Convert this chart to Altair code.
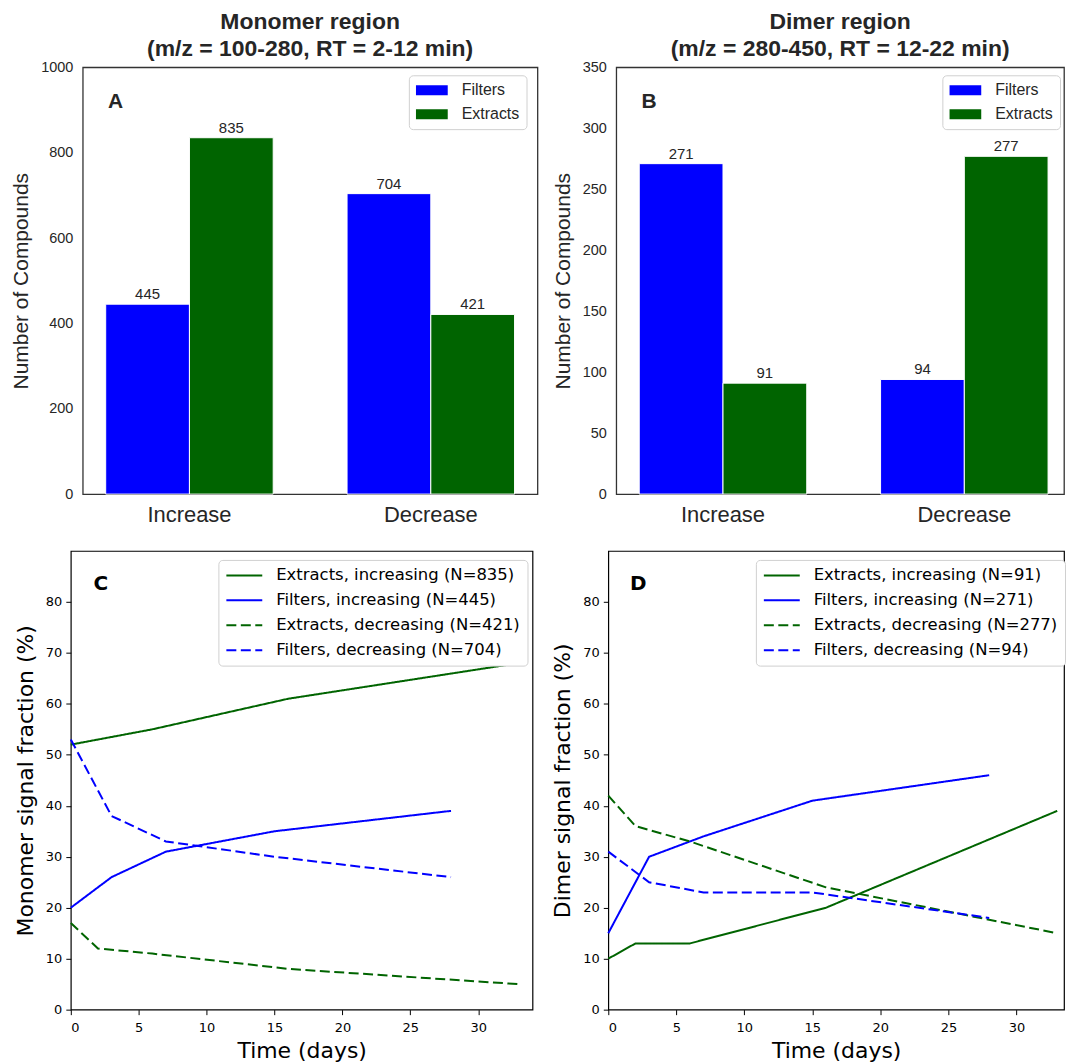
import altair as alt
import pandas as pd

# ---------------- data ----------------
categories = ["Increase", "Decrease"]
groups = ["Filters", "Extracts"]
mono_filters = [445, 704]
mono_extracts = [835, 421]
dimer_filters = [271, 94]
dimer_extracts = [91, 277]

filter_days = [0, 3, 7, 15, 28]
extract_days = [0, 2, 6, 16, 33]

mono_ext_inc = [52, 53, 55, 61, 68]
mono_fil_inc = [20, 26, 31, 35, 39]
mono_ext_dec = [17, 12, 11, 8, 5]
mono_fil_dec = [53, 38, 33, 30, 26]

dimer_ext_inc = [10, 13, 13, 20, 39]
dimer_fil_inc = [15, 30, 34, 41, 46]
dimer_ext_dec = [42, 36, 33, 24, 15]
dimer_fil_dec = [31, 25, 23, 23, 18]

mono_labels = ["Extracts, increasing (N=835)", "Filters, increasing (N=445)",
               "Extracts, decreasing (N=421)", "Filters, decreasing (N=704)"]
dimer_labels = ["Extracts, increasing (N=91)", "Filters, increasing (N=271)",
                "Extracts, decreasing (N=277)", "Filters, decreasing (N=94)"]

SANS = "Liberation Sans"
DEJA = "DejaVu Sans"
DARK = "#262626"
BLUE = "#0000ff"
GREEN = "#006400"


def bar_panel(filters, extracts, ymax, ystep, title_lines, letter, width, pad_outer, align):
    df = pd.DataFrame({
        "category": categories * 2,
        "group": [groups[0]] * 2 + [groups[1]] * 2,
        "count": list(filters) + list(extracts),
    })
    x = alt.X("category:N", sort=categories,
              scale=alt.Scale(paddingInner=0.306, paddingOuter=pad_outer, align=align),
              axis=alt.Axis(title=None, labelAngle=0, labelFontSize=22, labelFont=SANS,
                            labelColor=DARK, ticks=False, domain=False, labelPadding=10))
    xo = alt.XOffset("group:N", sort=groups, scale=alt.Scale(domain=groups))
    y = alt.Y("count:Q", scale=alt.Scale(domain=[0, ymax], nice=False),
              axis=alt.Axis(values=list(range(0, ymax + 1, ystep)), format="d",
                            title="Number of Compounds",
                            titleFont=SANS, titleFontSize=21, titleFontWeight="normal",
                            titleColor=DARK, titlePadding=9, labelFont=SANS, labelFontSize=14.5,
                            labelColor=DARK, ticks=False, domain=False, grid=False,
                            labelPadding=10))
    color = alt.Color("group:N", sort=groups,
                      scale=alt.Scale(domain=groups, range=[BLUE, GREEN]),
                      legend=alt.Legend(title=None, orient="none", legendX=327, legendY=8,
                                        labelFont=SANS, labelFontSize=16, labelColor=DARK,
                                        symbolType="M-1,-0.3125H1V0.3125H-1Z", symbolSize=1024,
                                        symbolStrokeWidth=0, labelOffset=14, rowPadding=8,
                                        clipHeight=16, padding=7, strokeColor="#d0d0d0",
                                        fillColor="white", cornerRadius=4))
    bars = alt.Chart(df).mark_bar(stroke="white", strokeWidth=1).encode(
        x=x, xOffset=xo, y=y, color=color)
    labels = alt.Chart(df).mark_text(baseline="bottom", dy=-2, fontSize=15, font=SANS,
                                     color=DARK).encode(
        x=alt.X("category:N", sort=categories), xOffset=alt.XOffset("group:N", sort=groups),
        y="count:Q", text="count:Q")
    let = alt.Chart(pd.DataFrame({"t": [letter]})).mark_text(
        fontWeight="bold", fontSize=21, font=SANS, color=DARK, baseline="middle",
        align="center").encode(x=alt.value(33), y=alt.value(35), text="t:N")
    return alt.layer(bars, labels, let).properties(
        width=width, height=428,
        title=alt.TitleParams(text=title_lines, fontSize=23, font=SANS, fontWeight="bold",
                              color=DARK, anchor="middle", frame="group", offset=-2,
                              lineHeight=27),
        view=alt.ViewBackground(stroke="#333333", strokeWidth=1.3))


def line_panel(labels, ext_inc, fil_inc, ext_dec, fil_dec, ytitle, letter, width, xmax):
    rows = []
    for lab, days, vals in [(labels[0], extract_days, ext_inc), (labels[1], filter_days, fil_inc),
                            (labels[2], extract_days, ext_dec), (labels[3], filter_days, fil_dec)]:
        for d, v in zip(days, vals):
            rows.append({"series": lab, "day": d, "value": v})
    df = pd.DataFrame(rows)
    leg = alt.Legend(title=None, orient="none", legendX=148, legendY=9, labelFont=DEJA,
                     labelFontSize=16.5, labelColor="black", labelLimit=500, symbolSize=1296,
                     symbolStrokeWidth=2, labelOffset=13, rowPadding=8, clipHeight=17,
                     padding=7, strokeColor="#d0d0d0", fillColor="white", cornerRadius=4)
    axis_common = dict(labelFont=DEJA, labelFontSize=13, labelColor="black", tickColor="black",
                       tickSize=5, domain=False, grid=False, titleFont=DEJA, titleFontSize=22,
                       titleFontWeight="normal", titleColor="black")
    line = alt.Chart(df).mark_line(strokeWidth=2).encode(
        x=alt.X("day:Q", scale=alt.Scale(domain=[0, xmax], nice=False),
                axis=alt.Axis(values=list(range(0, 31, 5)), title="Time (days)", titlePadding=6,
                              labelPadding=7, **axis_common)),
        y=alt.Y("value:Q", scale=alt.Scale(domain=[0, 90], nice=False),
                axis=alt.Axis(values=list(range(0, 81, 10)), title=ytitle, titlePadding=8,
                              labelPadding=4, **axis_common)),
        color=alt.Color("series:N", sort=labels,
                        scale=alt.Scale(domain=labels, range=[GREEN, BLUE, GREEN, BLUE]),
                        legend=leg),
        strokeDash=alt.StrokeDash("series:N", sort=labels,
                                  scale=alt.Scale(domain=labels,
                                                  range=[[1, 0], [1, 0], [10, 4.5], [10, 4.5]]),
                                  legend=leg),
    )
    let = alt.Chart(pd.DataFrame({"t": [letter]})).mark_text(
        fontWeight="bold", fontSize=20, font=DEJA, color="black", baseline="middle",
        align="center").encode(x=alt.value(30), y=alt.value(33), text="t:N")
    return alt.layer(line, let).properties(
        width=width, height=460,
        view=alt.ViewBackground(stroke="black", strokeWidth=1.2))


A = bar_panel(mono_filters, mono_extracts, 1000, 200,
              ["Monomer region", "(m/z = 100-280, RT = 2-12 min)"], "A", 456, 0.095, 0.5)
B = bar_panel(dimer_filters, dimer_extracts, 350, 50,
              ["Dimer region", "(m/z = 280-450, RT = 12-22 min)"], "B", 449, 0.0807, 0.59)
C = line_panel(mono_labels, mono_ext_inc, mono_fil_inc, mono_ext_dec, mono_fil_dec,
               "Monomer signal fraction (%)", "C", 463, 34)
D = line_panel(dimer_labels, dimer_ext_inc, dimer_fil_inc, dimer_ext_dec, dimer_fil_dec,
               "Dimer signal fraction (%)", "D", 457, 33.5)

spacer = alt.Chart(pd.DataFrame({"v": [0]})).mark_point(opacity=0).encode(
    x=alt.value(0), y=alt.value(0)).properties(
    width=12, height=428, view=alt.ViewBackground(strokeOpacity=0, strokeWidth=0))

top_pair = alt.hconcat(A, B, spacing=79, bounds="flush").resolve_scale(
    color="independent").resolve_legend(color="independent")
top = alt.hconcat(spacer, top_pair, spacing=0, bounds="flush").resolve_scale(
    color="independent").resolve_legend(color="independent")
bottom = alt.hconcat(C, D, spacing=76, bounds="flush").resolve_scale(
    color="independent", strokeDash="independent").resolve_legend(
    color="independent", strokeDash="independent")

chart = alt.vconcat(top, bottom, spacing=24, bounds="full").resolve_scale(
    color="independent", strokeDash="independent").resolve_legend(
    color="independent", strokeDash="independent").properties(
    padding={"left": 10, "top": 9, "right": 0, "bottom": 0},
    background="white")

chart.save("out.html", embed_options={"renderer": "svg", "actions": False})
